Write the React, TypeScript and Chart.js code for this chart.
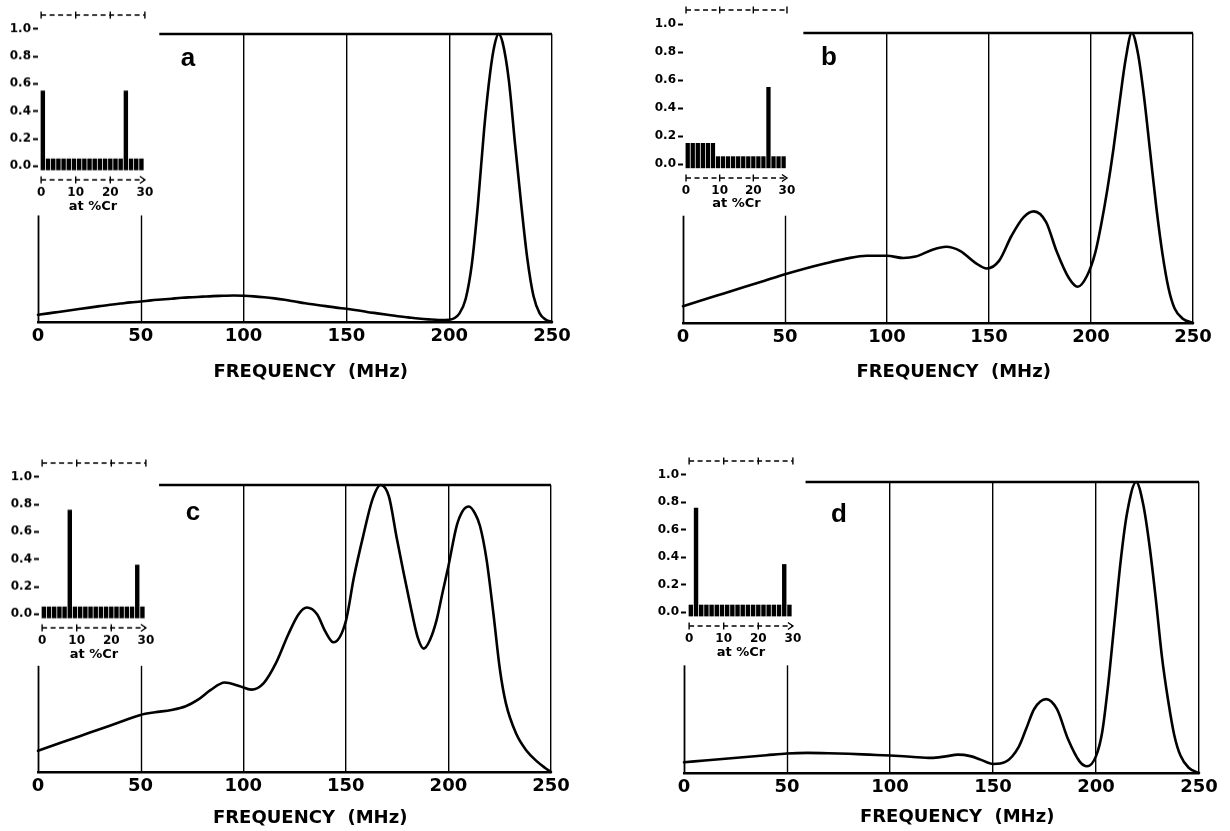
import React, { useEffect, useRef } from "react";
import { Chart, registerables } from "chart.js";
Chart.register(...registerables);

const FONT = "'DejaVu Sans', 'Liberation Sans', sans-serif";

// ---------- main spectra (frequency in MHz, normalised response) ----------
const freqA = [0,5,10,15,20,25,30,35,40,45,50,55,60,65,70,75,80,85,90,95,100,105,110,115,120,125,130,135,140,145,150,155,160,165,170,175,180,185,190,195,200,205,208,211,214,217,220,222,224,226,229,232,235,238,241,244,247,250];
const respA = [0.025,0.030,0.035,0.040,0.045,0.050,0.055,0.060,0.064,0.068,0.071,0.075,0.078,0.081,0.084,0.086,0.088,0.090,0.091,0.092,0.091,0.089,0.086,0.082,0.077,0.071,0.065,0.060,0.055,0.050,0.046,0.041,0.035,0.030,0.025,0.020,0.016,0.012,0.009,0.007,0.008,0.03,0.08,0.2,0.41,0.67,0.87,0.96,1.0,0.97,0.84,0.62,0.41,0.22,0.09,0.03,0.008,0];

const freqB = [0,10,20,30,40,50,60,70,80,90,100,108,114,122,129,136,143,149,155,161,167,172,178,183,189,193.5,198,202,205,208,211,214,217,220,223,226,229,232,235,238,241,245,250];
const respB = [0.058,0.080,0.102,0.124,0.146,0.168,0.188,0.206,0.222,0.232,0.232,0.224,0.229,0.252,0.263,0.248,0.209,0.188,0.215,0.30,0.365,0.385,0.348,0.25,0.157,0.125,0.162,0.24,0.34,0.46,0.60,0.76,0.91,1.0,0.93,0.78,0.59,0.40,0.24,0.12,0.05,0.015,0];

const freqC = [0,10,20,30,40,50,57,65,72,78,84,91,98,104,110,116,122,127,131,136,140,144,150,154,158.4,163,167,171,174.7,178,181.2,185,188,191,194.3,197,200,204,207,210,213,215.4,218.6,221.9,225.1,228,233,238,243,247,250];
const respC = [0.074,0.099,0.124,0.149,0.174,0.199,0.208,0.216,0.229,0.252,0.285,0.312,0.300,0.287,0.31,0.38,0.48,0.55,0.573,0.55,0.49,0.452,0.525,0.68,0.82,0.95,1.0,0.96,0.82,0.70,0.59,0.47,0.43,0.46,0.531,0.62,0.717,0.857,0.91,0.925,0.90,0.857,0.74,0.554,0.357,0.24,0.134,0.075,0.038,0.015,0];

const freqD = [0,10,20,30,40,50,60,70,80,90,100,110,120,127,133,139,144,150,156,162.5,166,170,175.8,181,186.5,192,195.7,200,203,206,209,212,215,219.5,223,226,229,232,235,238,241,245,250];
const respD = [0.037,0.043,0.049,0.055,0.061,0.067,0.069,0.068,0.066,0.063,0.060,0.056,0.052,0.057,0.063,0.058,0.046,0.031,0.038,0.09,0.15,0.22,0.254,0.22,0.115,0.04,0.023,0.058,0.14,0.31,0.52,0.73,0.89,1.0,0.92,0.78,0.60,0.40,0.25,0.13,0.06,0.018,0];

const freqTicks = [0, 50, 100, 150, 200, 250];
const fullGridTicks = [100, 150, 200, 250];
const stubTicks = [0, 50];

// ---------- inset histograms (at %Cr) ----------
const crPositions = [0.5,2,3.5,5,6.5,8,9.5,11,12.5,14,15.5,17,18.5,20,21.5,23,24.5,26,27.5,29];
const fracA = [0.55,0.055,0.055,0.055,0.055,0.055,0.055,0.055,0.055,0.055,0.055,0.055,0.055,0.055,0.055,0.055,0.55,0.055,0.055,0.055];
const fracB = [0.15,0.15,0.15,0.15,0.15,0.15,0.055,0.055,0.055,0.055,0.055,0.055,0.055,0.055,0.055,0.055,0.55,0.055,0.055,0.055];
const fracC = [0.055,0.055,0.055,0.055,0.055,0.76,0.055,0.055,0.055,0.055,0.055,0.055,0.055,0.055,0.055,0.055,0.055,0.055,0.36,0.055];
const fracD = [0.055,0.76,0.055,0.055,0.055,0.055,0.055,0.055,0.055,0.055,0.055,0.055,0.055,0.055,0.055,0.055,0.055,0.055,0.35,0.055];
const crTicks = [0, 10, 20, 30];
const fracTicks = [0, 0.1, 0.2, 0.3, 0.4, 0.5, 0.6, 0.7, 0.8, 0.9, 1.0];

const panelLetters = ["a", "b", "c", "d"];

// ---------- layout (pixels) ----------
const mainBoxes = [
  { L: 38, R: 552, T: 34, B: 322, titleY: 372 },
  { L: 683, R: 1193, T: 33, B: 323, titleY: 372 },
  { L: 38, R: 551, T: 485, B: 772, titleY: 818 },
  { L: 684, R: 1199, T: 482, B: 773, titleY: 817 },
];
const insetBoxes = [
  { x0: 41, x30: 145, y1: 29, y0: 166 },
  { x0: 686, x30: 787, y1: 24, y0: 164 },
  { x0: 42, x30: 146, y1: 477, y0: 614 },
  { x0: 689, x30: 793, y1: 475, y0: 612.7 },
];
const letterPos = [
  { x: 188, y: 57 },
  { x: 829, y: 56 },
  { x: 193, y: 511 },
  { x: 839, y: 513 },
];

const STUB_TOP = 0.37;
const TOP_LINE_START = 59;

const mainFramePlugin = {
  id: "mainFrame",
  afterDatasetsDraw(chart: any) {
    const { ctx, scales } = chart;
    const x = scales.x, y = scales.y;
    ctx.save();
    ctx.strokeStyle = "#000";
    stubTicks.forEach((v, i) => {
      const px = Math.round(x.getPixelForValue(v)) + 0.5;
      ctx.lineWidth = i === 0 ? 1.8 : 1.4;
      ctx.beginPath();
      ctx.moveTo(px, y.getPixelForValue(0));
      ctx.lineTo(px, y.getPixelForValue(STUB_TOP));
      ctx.stroke();
    });
    ctx.lineWidth = 2.6;
    ctx.beginPath();
    ctx.moveTo(x.getPixelForValue(TOP_LINE_START), y.getPixelForValue(1));
    ctx.lineTo(x.getPixelForValue(250), y.getPixelForValue(1));
    ctx.stroke();
    ctx.restore();
  },
};

const insetAxesPlugin = {
  id: "insetAxes",
  afterDraw(chart: any) {
    const { ctx, chartArea, scales } = chart;
    const x = scales.x;
    const top = chartArea.top, bottom = chartArea.bottom;
    const xs = x.getPixelForValue(crTicks[0]);
    const xe = x.getPixelForValue(crTicks[crTicks.length - 1]);
    ctx.save();
    ctx.strokeStyle = "#000";
    ctx.lineWidth = 1.3;
    ctx.setLineDash([5, 3.5]);
    [top, bottom].forEach((yy: number) => {
      ctx.beginPath();
      ctx.moveTo(xs, yy);
      ctx.lineTo(xe, yy);
      ctx.stroke();
    });
    ctx.setLineDash([]);
    ctx.lineWidth = 1.4;
    crTicks.forEach((v, i) => {
      const px = x.getPixelForValue(v);
      ctx.beginPath();
      ctx.moveTo(px, top - 3.5);
      ctx.lineTo(px, top + 3.5);
      ctx.stroke();
      if (i < crTicks.length - 1) {
        ctx.beginPath();
        ctx.moveTo(px, bottom - 3.5);
        ctx.lineTo(px, bottom + 3.5);
        ctx.stroke();
      }
    });
    ctx.beginPath();
    ctx.moveTo(xe - 5, bottom - 3.5);
    ctx.lineTo(xe, bottom);
    ctx.lineTo(xe - 5, bottom + 3.5);
    ctx.stroke();
    ctx.restore();
  },
};

function MainPanel({ freq, resp, box }: { freq: number[]; resp: number[]; box: any }) {
  const ref = useRef<HTMLCanvasElement>(null);
  const padL = 30, padR = 30, padT = 10;
  const width = box.R - box.L + padL + padR;
  const height = box.titleY + 20 - (box.T - padT);
  const axisH = box.titleY + 20 - box.B;
  useEffect(() => {
    const chart = new Chart(ref.current as HTMLCanvasElement, {
      type: "line",
      data: {
        datasets: [
          {
            data: freq.map((f, i) => ({ x: f, y: resp[i] })),
            borderColor: "#000",
            borderWidth: 2.6,
            pointRadius: 0,
            cubicInterpolationMode: "monotone",
            fill: false,
            clip: false,
            borderCapStyle: "round",
            borderJoinStyle: "round",
          } as any,
        ],
      },
      options: {
        responsive: false,
        animation: false,
        devicePixelRatio: 1,
        layout: { padding: { left: padL, right: padR, top: padT, bottom: 0 } },
        plugins: { legend: { display: false }, tooltip: { enabled: false }, title: { display: false } },
        scales: {
          x: {
            type: "linear",
            min: 0,
            max: 250,
            afterBuildTicks: (s: any) => {
              s.ticks = freqTicks.map((v) => ({ value: v }));
            },
            afterFit: (s: any) => {
              s.height = axisH;
            },
            ticks: {
              color: "#000",
              font: { family: FONT, size: 18, weight: "bold", lineHeight: 1.2 },
              padding: 3.2,
              maxRotation: 0,
              autoSkip: false,
            },
            grid: {
              drawTicks: false,
              lineWidth: 1.4,
              color: (c: any) => (c.tick && fullGridTicks.includes(c.tick.value) ? "#000" : "rgba(0,0,0,0)"),
            },
            border: { display: true, color: "#000", width: 2.6 },
            title: {
              display: true,
              text: "     FREQUENCY  (MHz)",
              color: "#000",
              font: { family: FONT, size: 18, weight: "bold", lineHeight: 1.2 },
              padding: { top: 0, bottom: 9.2 },
            },
          },
          y: { display: false, min: 0, max: 1 },
        },
      } as any,
      plugins: [mainFramePlugin],
    });
    return () => chart.destroy();
  }, []);
  return (
    <canvas
      ref={ref}
      width={width}
      height={height}
      style={{ position: "absolute", left: box.L - padL, top: box.T - padT, width, height }}
    />
  );
}

function InsetPanel({ frac, box }: { frac: number[]; box: any }) {
  const ref = useRef<HTMLCanvasElement>(null);
  const xMin = -0.9, xMax = 30.9, yMin = -0.1, yMax = 1.1;
  const pxX = (box.x30 - box.x0) / 30;
  const pxY = box.y0 - box.y1;
  const L = box.x0 + xMin * pxX;
  const R = box.x0 + xMax * pxX;
  const T = box.y0 - yMax * pxY;
  const B = box.y0 - yMin * pxY;
  const yAxisW = 36, padT = 12, padR = 22, xAxisH = 40;
  const width = R - L + yAxisW + padR;
  const height = B - T + padT + xAxisH;
  const labelPad = box.y0 + 27 - B - 7.2;
  const titlePadB = B + xAxisH - (box.y0 + 40) - 7.8;
  useEffect(() => {
    const chart = new Chart(ref.current as HTMLCanvasElement, {
      type: "bar",
      data: {
        datasets: [
          {
            data: crPositions.map((c, i) => ({ x: c, y: frac[i] })),
            backgroundColor: "#000",
            borderWidth: 0,
            base: -0.03,
            barPercentage: 0.85,
            categoryPercentage: 1,
            clip: false,
          } as any,
        ],
      },
      options: {
        responsive: false,
        animation: false,
        devicePixelRatio: 1,
        layout: { padding: { left: 0, right: padR, top: padT, bottom: 0 } },
        plugins: { legend: { display: false }, tooltip: { enabled: false } },
        scales: {
          x: {
            type: "linear",
            min: xMin,
            max: xMax,
            offset: false,
            afterBuildTicks: (s: any) => {
              s.ticks = crTicks.map((v) => ({ value: v }));
            },
            afterFit: (s: any) => {
              s.height = xAxisH;
            },
            ticks: {
              color: "#000",
              font: { family: FONT, size: 12, weight: "bold", lineHeight: 1.2 },
              padding: labelPad,
              maxRotation: 0,
              autoSkip: false,
            },
            grid: { display: false, drawTicks: false, offset: false },
            border: { display: false },
            title: {
              display: true,
              text: "at %Cr",
              color: "#000",
              font: { family: FONT, size: 13, weight: "bold", lineHeight: 1.2 },
              padding: { top: 0, bottom: titlePadB },
            },
          },
          y: {
            min: yMin,
            max: yMax,
            afterBuildTicks: (s: any) => {
              s.ticks = fracTicks.map((v) => ({ value: v }));
            },
            afterFit: (s: any) => {
              s.width = yAxisW;
            },
            ticks: {
              color: "#000",
              font: { family: FONT, size: 12, weight: "bold", lineHeight: 1.2 },
              padding: 2,
              callback: (v: any) => (Math.round(Number(v) * 10) % 2 === 0 ? Number(v).toFixed(1) : ""),
            },
            grid: { drawOnChartArea: false, drawTicks: true, tickLength: 5, tickWidth: 2, tickColor: "#000" },
            border: { display: false },
          },
        },
      } as any,
      plugins: [insetAxesPlugin],
    });
    return () => chart.destroy();
  }, []);
  return (
    <canvas
      ref={ref}
      width={width}
      height={height}
      style={{ position: "absolute", left: L - yAxisW, top: T - padT, width, height }}
    />
  );
}

export default function App() {
  const freqs = [freqA, freqB, freqC, freqD];
  const resps = [respA, respB, respC, respD];
  const fracs = [fracA, fracB, fracC, fracD];
  return (
    <div
      style={{
        position: "absolute",
        left: 0,
        top: 0,
        width: 1230,
        height: 831,
        background: "#fff",
        overflow: "hidden",
      }}
    >
      {mainBoxes.map((b, i) => (
        <MainPanel key={"m" + i} freq={freqs[i]} resp={resps[i]} box={b} />
      ))}
      {insetBoxes.map((b, i) => (
        <InsetPanel key={"i" + i} frac={fracs[i]} box={b} />
      ))}
      {letterPos.map((p, i) => (
        <div
          key={"l" + i}
          style={{
            position: "absolute",
            left: p.x,
            top: p.y,
            transform: "translate(-50%, -50%)",
            fontFamily: "'Liberation Sans', Arial, sans-serif",
            fontWeight: "bold",
            fontSize: 26,
            lineHeight: 1,
            color: "#000",
          }}
        >
          {panelLetters[i]}
        </div>
      ))}
    </div>
  );
}
